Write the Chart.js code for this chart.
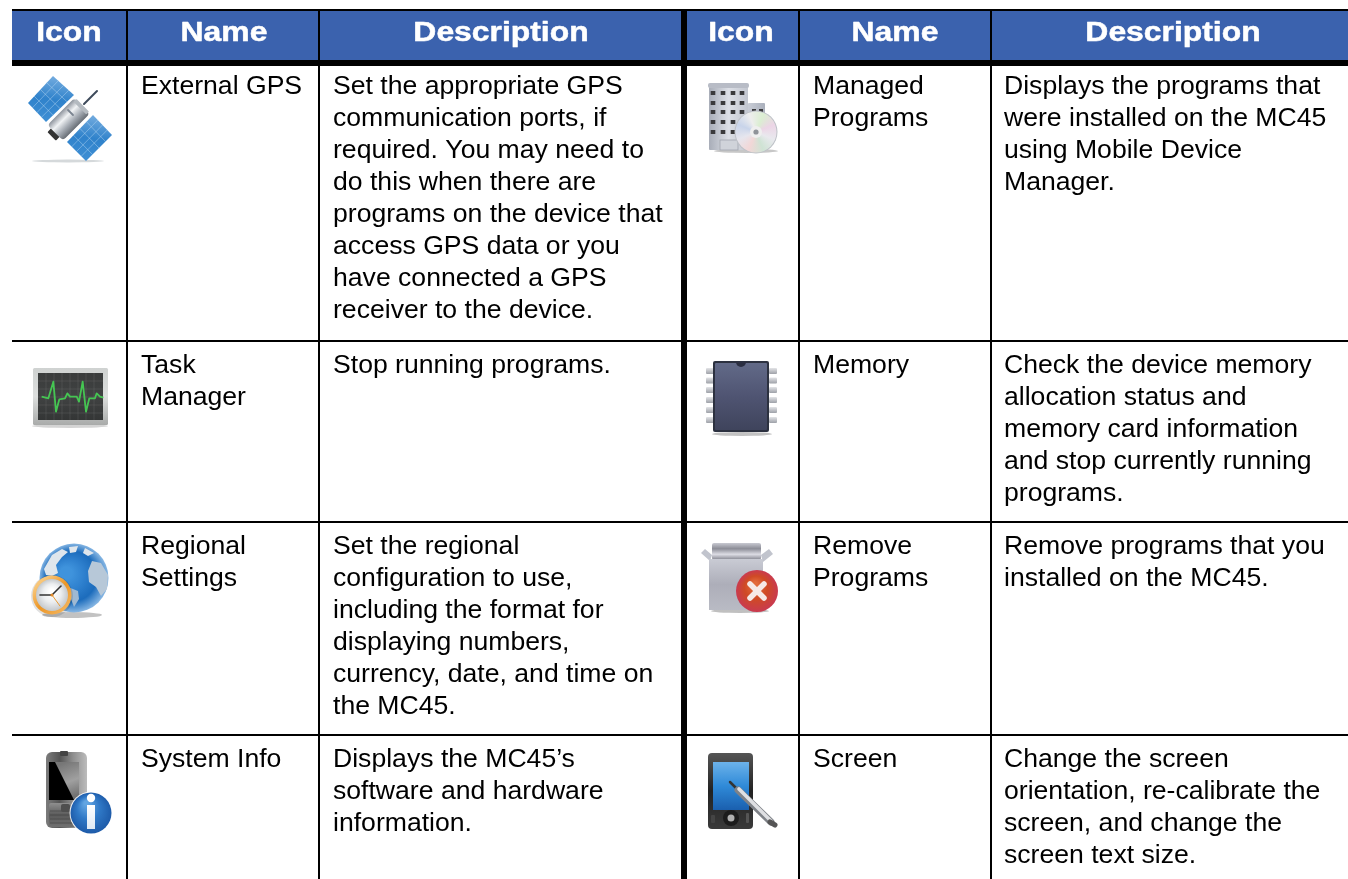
<!DOCTYPE html>
<html><head><meta charset="utf-8">
<style>html,body{margin:0;padding:0;background:#fff;overflow:hidden}canvas{display:block}</style>
<script src="https://cdn.jsdelivr.net/npm/chart.js@4"></script>
</head><body><canvas id="c" width="1348" height="879"></canvas>
<script>
const headers = ["Icon","Name","Description","Icon","Name","Description"];
const namesLeft = [["External GPS"],["Task","Manager"],["Regional","Settings"],["System Info"]];
const namesRight = [["Managed","Programs"],["Memory"],["Remove","Programs"],["Screen"]];
const descLeft = [
 ["Set the appropriate GPS","communication ports, if","required. You may need to","do this when there are","programs on the device that","access GPS data or you","have connected a GPS","receiver to the device."],
 ["Stop running programs."],
 ["Set the regional","configuration to use,","including the format for","displaying numbers,","currency, date, and time on","the MC45."],
 ["Displays the MC45\u2019s","software and hardware","information."]];
const descRight = [
 ["Displays the programs that","were installed on the MC45","using Mobile Device","Manager."],
 ["Check the device memory","allocation status and","memory card information","and stop currently running","programs."],
 ["Remove programs that you","installed on the MC45."],
 ["Change the screen","orientation, re-calibrate the","screen, and change the","screen text size."]];
const columnEdges = [127,319,684,799,991];
const rowEdges = [10,63,341,522,735];
const rowBaselines = [94,373,554,767];
const headerCentres = [69,224,501,741,895,1173];
const iconCentreX = [70,742];
const iconCentreY = [118,398,579,793];

function mk(fn){const c=document.createElement('canvas');c.width=c.height=130;const g=c.getContext('2d');g.translate(65,65);g.filter='blur(0.6px)';fn(g);return c;}
function lg(g,x0,y0,x1,y1,...s){const l=g.createLinearGradient(x0,y0,x1,y1);s.forEach((v,i)=>l.addColorStop(i/(s.length-1),v));return l;}
function rg(g,x,y,r0,x1,y1,r1,...s){const l=g.createRadialGradient(x,y,r0,x1,y1,r1);s.forEach((v,i)=>l.addColorStop(i/(s.length-1),v));return l;}
function poly(g,p,f,st){g.beginPath();p.forEach((q,i)=>i?g.lineTo(q[0],q[1]):g.moveTo(q[0],q[1]));g.closePath();if(f){g.fillStyle=f;g.fill();}if(st){g.strokeStyle=st;g.stroke();}}
function rr(g,x,y,w,h,r,f,st){g.beginPath();g.roundRect(x,y,w,h,r);if(f){g.fillStyle=f;g.fill();}if(st){g.strokeStyle=st;g.stroke();}}
function disc(g,x,y,r,f){g.beginPath();g.arc(x,y,r,0,7);g.fillStyle=f;g.fill();}
function ell(g,x,y,a,b,f){g.beginPath();g.ellipse(x,y,a,b,0,0,7);g.fillStyle=f;g.fill();}
function seg(g,a,b,c,d,s,w){g.beginPath();g.moveTo(a,b);g.lineTo(c,d);g.strokeStyle=s;g.lineWidth=w;g.lineCap='round';g.stroke();}

function panel(g,p){
 poly(g,p,lg(g,p[0][0],p[0][1],p[2][0],p[2][1],'#74acdf','#2f82cb','#3f8fd4'));
 for(let i=1;i<4;i++){const t=i/4;
  seg(g,p[0][0]+(p[1][0]-p[0][0])*t,p[0][1]+(p[1][1]-p[0][1])*t,p[3][0]+(p[2][0]-p[3][0])*t,p[3][1]+(p[2][1]-p[3][1])*t,'rgba(190,220,245,.55)',.8);
  seg(g,p[0][0]+(p[3][0]-p[0][0])*t,p[0][1]+(p[3][1]-p[0][1])*t,p[1][0]+(p[2][0]-p[1][0])*t,p[1][1]+(p[2][1]-p[1][1])*t,'rgba(190,220,245,.55)',.8);
 }
}
const iconSatellite = mk(g=>{
 ell(g,-2,43,36,1.4,'rgba(150,160,165,.4)');
 panel(g,[[-17,-42],[4,-23],[-24,4],[-42,-15]]);
 panel(g,[[23,-3],[42,17],[16,43],[-3,24]]);
 seg(g,14,-14,27,-27,'#3d4a5a',2);
 g.save();g.rotate(-Math.PI/4);
 rr(g,-26,-6,6,12,1,'#333');
 rr(g,-21,-11,38,22,4,lg(g,0,-11,0,11,'#8d939c','#f1f3f5','#a7adb5','#666c74'));
 rr(g,14,-9,4,18,1,'#b4bac0');
 g.restore();
 seg(g,-2,-8,3,-3,'#7b8490',1.8);
});
const iconMonitor = mk(g=>{
 ell(g,0,28,38,2,'rgba(170,170,170,.5)');
 rr(g,-37,-30,75,57,1.5,lg(g,0,-30,0,27,'#cfd2d1','#dcdedd','#a9abaa'));
 g.fillStyle=lg(g,0,-25,0,23,'#3a3c3c','#404242','#333535');g.fillRect(-32,-25,65,47);
 g.strokeStyle='rgba(120,125,120,.45)';g.lineWidth=.6;
 for(let i=1;i<8;i++){g.beginPath();g.moveTo(-32+i*8,-25);g.lineTo(-32+i*8,22);g.stroke();}
 for(let i=1;i<6;i++){g.beginPath();g.moveTo(-32,-25+i*8);g.lineTo(33,-25+i*8);g.stroke();}
 const tr=[[125,200],[145,205],[160,155],[168,245],[178,208],[195,205],[202,190],[210,200],[230,200],[237,215],[248,155],[258,245],[268,205],[285,205],[290,190],[300,200],[310,203]];
 g.beginPath();tr.forEach((p,i)=>{const x=p[0]/3-70,y=p[1]/3+330-398;i?g.lineTo(x,y):g.moveTo(x,y);});
 g.strokeStyle='#45c552';g.lineWidth=1.8;g.lineJoin='round';g.stroke();
});
const iconGlobe = mk(g=>{
 ell(g,2,36,30,3,'rgba(120,120,120,.45)');
 disc(g,4,-1,34.5,rg(g,-4,-6,6,4,-1,35,'#3f93dc','#2e80ce','#1c6cbc','#8dbbe6'));
 const w='#dfe6ec';
 poly(g,[[-26,-10],[-18,-24],[-8,-30],[-2,-27],[-8,-22],[-14,-14],[-12,-6],[-18,-3],[-24,-4]],w);
 poly(g,[[-1,-32],[8,-33],[6,-27],[0,-26]],w);
 poly(g,[[15,-31],[24,-26],[18,-23],[13,-26]],w);
 poly(g,[[22,-18],[31,-16],[38,-4],[37,10],[31,17],[26,8],[19,3],[18,-8]],'#b7c8d8');
 poly(g,[[-2,8],[8,12],[9,20],[4,28],[1,20]],'#9fb9d2');
 ell(g,-18,17,21,21,'rgba(0,0,0,.12)');
 disc(g,-18,16,19.5,lg(g,-30,4,-6,30,'#f8c679','#ec9626','#f2b055'));
 disc(g,-18,16,16,rg(g,-18,12,2,-18,16,16,'#ffffff','#eceef0','#c4c8cc'));
 seg(g,-30,16,-18,16,'#333',1.6);
 seg(g,-18,16,-9,7,'#333',1.6);
 seg(g,-18,16,-10,27,'#e89a35',1);
 disc(g,-18,16,1.6,'#e08a2a');
});
const iconPhone = mk(g=>{
 rr(g,-24,-41,41,76,6,lg(g,-24,0,17,0,'#7c7c7c','#555','#8f8f8f','#bcbcbc'));
 rr(g,-10,-42,8,5,1,'#444');
 g.fillStyle='#000';g.fillRect(-21,-31,30,38);
 poly(g,[[-15,-31],[9,-31],[9,7],[4,7]],lg(g,-6,-30,8,6,'#777','#a0a0a0','#666'));
 rr(g,-21,10,33,24,2,lg(g,0,10,0,34,'#8f8f8f','#5a5a5a','#707070'));
 g.strokeStyle='#454545';g.lineWidth=.7;
 for(let i=0;i<4;i++){g.beginPath();g.moveTo(-20,18+i*4);g.lineTo(10,18+i*4);g.stroke();}
 rr(g,-9,11,9,8,2,'#4f4f4f');
 disc(g,21,20,21.5,'rgba(255,255,255,.9)');
 disc(g,21,20,20.5,rg(g,16,10,2,21,20,21,'#62a5e2','#2f78c6','#1d5aa8'));
 disc(g,21,5,4.2,'#fff');
 g.fillStyle=lg(g,0,12,0,36,'#fff','#dfe9f4');g.fillRect(17,12,8,24);
});
const iconBuilding = mk(g=>{
 ell(g,4,33,32,2,'rgba(130,130,130,.45)');
 rr(g,6,-15,17,48,1,lg(g,6,0,23,0,'#c9cdd6','#aab0bc'));
 rr(g,-33,-31,39,63,1,lg(g,-33,0,6,0,'#a8adb8','#dcdfe6','#c3c7d0'));
 rr(g,-34,-35,41,5,2,'#b8bcc6');
 g.fillStyle='#3a3a3c';
 [-29,-19,-9,0].forEach(x=>[-25,-15,-6,4,14].forEach(y=>g.fillRect(x-2.3,y-2,4.6,4)));
 [10,17].forEach(x=>g.fillRect(x,-9,4,3));
 g.fillStyle='#d0d3da';g.fillRect(-22,22,18,10);
 g.strokeStyle='#a0a5ae';g.lineWidth=.8;g.strokeRect(-22,22,18,10);
 disc(g,14,14,21.5,'#bfc2c8');
 const c=g.createConicGradient(.4,14,14);['#e9e9ee','#cfe3d4','#f2d7d7','#e6e6ee','#c8d4ea','#eeeeee','#dbeed2','#ecd5e6','#e9e9ee'].forEach((v,i,a)=>c.addColorStop(i/(a.length-1),v));
 disc(g,14,14,20.5,c);
 disc(g,14,14,6,'#efefef');
 disc(g,14,14,2.6,'#8f9399');
});
const iconChip = mk(g=>{
 ell(g,0,36,30,2,'rgba(120,120,120,.45)');
 [-27,-17.5,-8,2,12,22].forEach(y=>{
  rr(g,-36,y-3,9,6,1,lg(g,0,y-3,0,y+3,'#e3e4e7','#9ea1a8'));
  rr(g,27,y-3,8,6,1,lg(g,0,y-3,0,y+3,'#e3e4e7','#9ea1a8'));
 });
 rr(g,-29,-37,56,71,2,'#2c3140');
 rr(g,-27,-35,52,67,1,lg(g,0,-35,0,32,'#626a88','#4f5472','#3f445c'));
 g.beginPath();g.arc(-1,-36,5,0,Math.PI);g.fillStyle='#2b2f42';g.fill();
});
const iconBox = mk(g=>{
 ell(g,-2,32,29,2,'rgba(130,130,130,.5)');
 poly(g,[[-41,-26],[-37,-30],[-30,-24],[-32,-18]],'#c1c4cd');
 poly(g,[[19,-24],[27,-30],[31,-25],[21,-17]],'#c1c4cd');
 rr(g,-30,-36,49,17,2,lg(g,0,-36,0,-19,'#c8c9d1','#8c8d97','#dcdce4','#80818c'));
 poly(g,[[-33,-20],[21,-20],[21,31],[-33,31]],lg(g,0,-20,0,31,'#c9cbd4','#adaeb9','#b9bbc4'));
 disc(g,15,12,21,rg(g,13,5,2,15,12,21,'#e26a3a','#cf4a25','#c93a50'));
 seg(g,8,5,22,19,'#f6e9e6',5.5);
 seg(g,22,5,8,19,'#f6e9e6',5.5);
});
const iconScreen = mk(g=>{
 rr(g,-34,-40,45,76,4,lg(g,0,-40,0,36,'#555','#222','#3a3a3a'));
 g.fillStyle=lg(g,0,-31,0,17,'#6cb2ea','#2f8ad8','#1a5fae');g.fillRect(-29,-31,36,48);
 disc(g,-11,25,8,'#1c1c1c');disc(g,-11,25,3.5,'#b0b0b0');
 rr(g,-31,22,4,8,1,'#444');rr(g,4,20,3,10,1,'#555');
 seg(g,-12,-11,-4,-3,'#333',2.5);
 seg(g,-4,-3,29,29,'#7f8288',7);
 seg(g,-3,-4,29,28,'#dfe0e3',3.6);
 seg(g,28,29,33,32,'#555',5);
});
const iconImages = [iconSatellite,iconMonitor,iconGlobe,iconPhone,iconBuilding,iconChip,iconBox,iconScreen];

function cellText(ctx,x,y,lines,sc){lines.forEach((t,i)=>ctx.fillText(t,sc.x.getPixelForValue(x),sc.y.getPixelForValue(y+i*32)));}
const tablePlugin = {
 id:'table',
 beforeDraw(ch){const {ctx,scales:s}=ch;ctx.save();ctx.fillStyle='#3b62ae';
  const x0=s.x.getPixelForValue(12),y0=s.y.getPixelForValue(10);
  ctx.fillRect(x0,y0,s.x.getPixelForValue(1348)-x0,s.y.getPixelForValue(63)-y0);ctx.restore();},
 afterDatasetsDraw(ch){const {ctx,scales:s}=ch;ctx.save();
  ctx.textBaseline='alphabetic';ctx.fillStyle='#000';ctx.textAlign='left';
  ctx.font='26.6px "Liberation Sans"';
  rowBaselines.forEach((b,r)=>{
   cellText(ctx,141,b,namesLeft[r],s);cellText(ctx,333,b,descLeft[r],s);
   cellText(ctx,813,b,namesRight[r],s);cellText(ctx,1004,b,descRight[r],s);
  });
  ctx.fillStyle='#fff';ctx.font='bold 27px "Liberation Sans"';ctx.textAlign='center';
  ctx.strokeStyle='#fff';ctx.lineWidth=.5;ctx.lineJoin='round';
  headers.forEach((h,i)=>{ctx.save();ctx.translate(s.x.getPixelForValue(headerCentres[i]),s.y.getPixelForValue(41));ctx.scale(1.18,1);ctx.fillText(h,0,0);ctx.strokeText(h,0,0);ctx.restore();});
  ctx.restore();}
};
const thick=v=>v===684?6:2, thickY=v=>v===63?6:2;
new Chart(document.getElementById('c'),{
 type:'scatter',
 data:{datasets:[{
  label:'Icons',
  data:iconCentreX.flatMap(x=>iconCentreY.map(y=>({x,y}))),
  pointStyle:iconImages,
  backgroundColor:'transparent',borderColor:'transparent'
 }]},
 options:{
  responsive:false,animation:false,devicePixelRatio:1,
  layout:{autoPadding:false,padding:{left:12,top:9,right:0,bottom:0}},
  plugins:{legend:{display:false},tooltip:{enabled:false},title:{display:false}},
  events:[],
  scales:{
   x:{type:'linear',min:12,max:1348,border:{display:false},
    afterBuildTicks(a){a.ticks=columnEdges.map(value=>({value}));},
    ticks:{display:false},
    grid:{color:'#000',drawTicks:false,lineWidth:c=>thick(c.tick&&c.tick.value)}},
   y:{type:'linear',reverse:true,min:9,max:879,border:{display:false},
    afterBuildTicks(a){a.ticks=rowEdges.map(value=>({value}));},
    ticks:{display:false},
    grid:{color:'#000',drawTicks:false,lineWidth:c=>thickY(c.tick&&c.tick.value)}}
  }
 },
 plugins:[tablePlugin]
});
</script></body></html>
